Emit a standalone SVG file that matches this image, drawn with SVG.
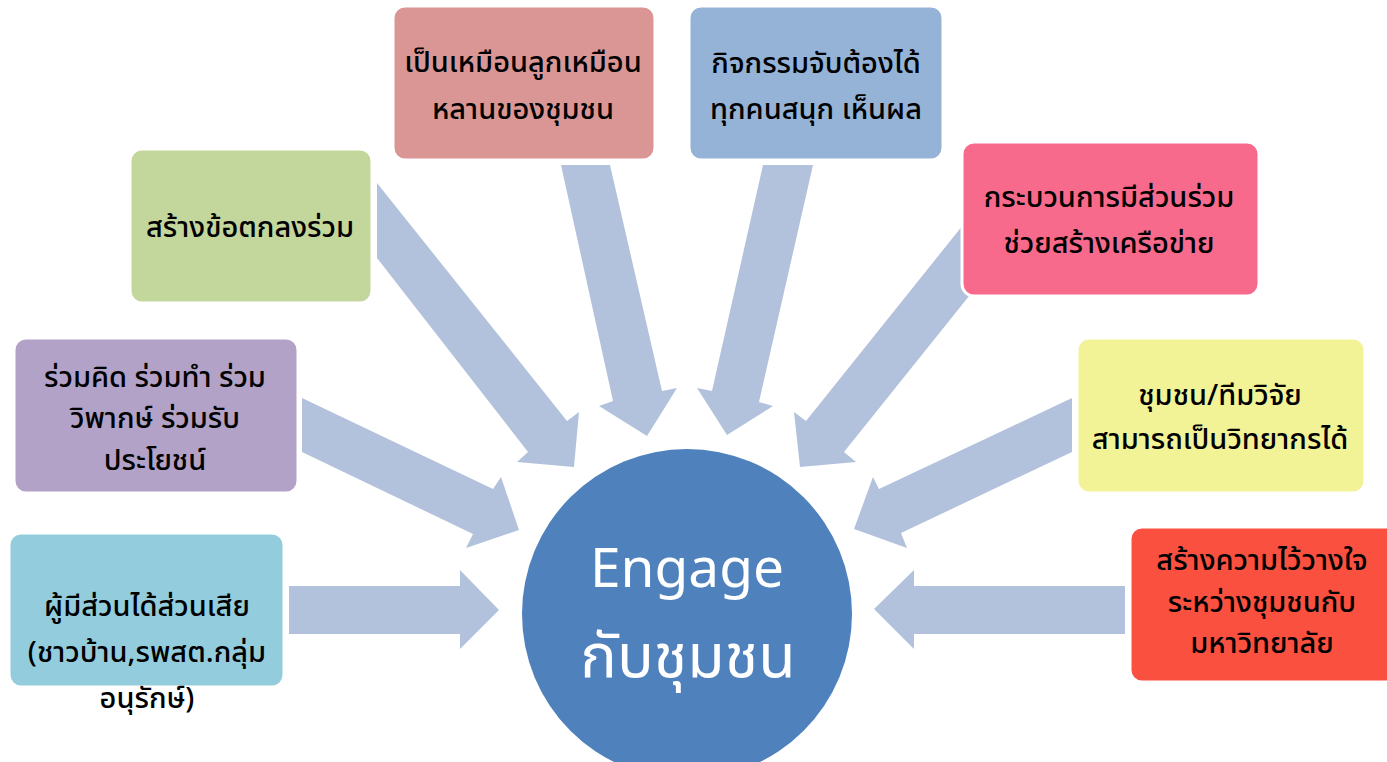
<svg xmlns="http://www.w3.org/2000/svg" width="1387" height="762" viewBox="0 0 1387 762">
<style>
.arrow{fill:#B3C2DC;stroke:none}
.box{stroke:#FFFFFF;stroke-width:3}
.t{font-family:"Noto Sans Thai","Noto Sans","Liberation Sans",sans-serif;font-size:29px;font-weight:500;fill:#000000;text-anchor:middle}
.c{font-family:"Noto Sans Thai","Noto Sans","Liberation Sans",sans-serif;fill:#FFFFFF;text-anchor:middle}
</style>
<rect width="1387" height="762" fill="#FFFFFF"/>
<g id="connectors">
<polygon class="arrow" points="377,183 567,421 579,412 574,467 517,462 528,452 377,258"/>
<polygon class="arrow" points="302,398 493,489 501,477 519,530 466,548 473,534 302,452"/>
<polygon class="arrow" points="289,586 460,586 460,570 499,610 460,649 460,634 289,634"/>
<polygon class="arrow" points="561,165 613,401 599,406 647,436 677,388 662,391 610,165"/>
<polygon class="arrow" points="763,165 712,391 697,388 727,435 773,406 759,402 813,165"/>
<polygon class="arrow" points="983,200 806,421 794,412 800,467 856,462 844,452 1022,230"/>
<polygon class="arrow" points="1072,398 879,489 873,477 854,529 907,548 901,533 1072,452"/>
<polygon class="arrow" points="1125,586 914,586 914,570 874,609 914,649 914,634 1125,634"/>
</g>
<g id="node-center">
<circle cx="687" cy="614" r="165" fill="#4F81BD"/>
<text class="c" x="687" y="587" font-size="55">Engage</text>
<text class="c" x="688" y="677" font-size="61">กับชุมชน</text>
</g>
<g id="node-lookhlan">
<rect class="box" x="393" y="6" width="262" height="154" rx="12" fill="#D99694"/>
<text class="t" x="523" y="72">เป็นเหมือนลูกเหมือน</text>
<text class="t" x="523" y="119">หลานของชุมชน</text>
</g>
<g id="node-activity">
<rect class="box" x="689" y="6" width="254" height="154" rx="12" fill="#95B3D7"/>
<text class="t" x="816" y="73">กิจกรรมจับต้องได้</text>
<text class="t" x="816" y="119">ทุกคนสนุก เห็นผล</text>
</g>
<g id="node-process">
<rect class="box" x="962" y="142" width="297" height="154" rx="12" fill="#F76A8C"/>
<text class="t" x="1109" y="207">กระบวนการมีส่วนร่วม</text>
<text class="t" x="1109" y="253">ช่วยสร้างเครือข่าย</text>
</g>
<g id="node-agreement">
<rect class="box" x="130" y="149" width="242" height="154" rx="12" fill="#C3D69B"/>
<text class="t" x="250" y="237">สร้างข้อตกลงร่วม</text>
</g>
<g id="node-participate">
<rect class="box" x="14" y="338" width="284" height="155" rx="12" fill="#B2A2C7"/>
<text class="t" x="155" y="387">ร่วมคิด ร่วมทำ ร่วม</text>
<text class="t" x="155" y="428">วิพากษ์ ร่วมรับ</text>
<text class="t" x="155" y="470">ประโยชน์</text>
</g>
<g id="node-research">
<rect class="box" x="1077" y="338" width="288" height="155" rx="12" fill="#F2F296"/>
<text class="t" x="1220" y="405">ชุมชน/ทีมวิจัย</text>
<text class="t" x="1220" y="449">สามารถเป็นวิทยากรได้</text>
</g>
<g id="node-stakeholder">
<rect class="box" x="9" y="533" width="275" height="154" rx="12" fill="#93CDDD"/>
<text class="t" x="147" y="616">ผู้มีส่วนได้ส่วนเสีย</text>
<text class="t" x="147" y="662">(ชาวบ้าน,รพสต.กลุ่ม</text>
<text class="t" x="147" y="708">อนุรักษ์)</text>
</g>
<g id="node-trust">
<rect class="box" x="1130" y="527" width="270" height="155" rx="12" fill="#F95040"/>
<text class="t" x="1262" y="570">สร้างความไว้วางใจ</text>
<text class="t" x="1262" y="612">ระหว่างชุมชนกับ</text>
<text class="t" x="1262" y="653">มหาวิทยาลัย</text>
</g>
</svg>
